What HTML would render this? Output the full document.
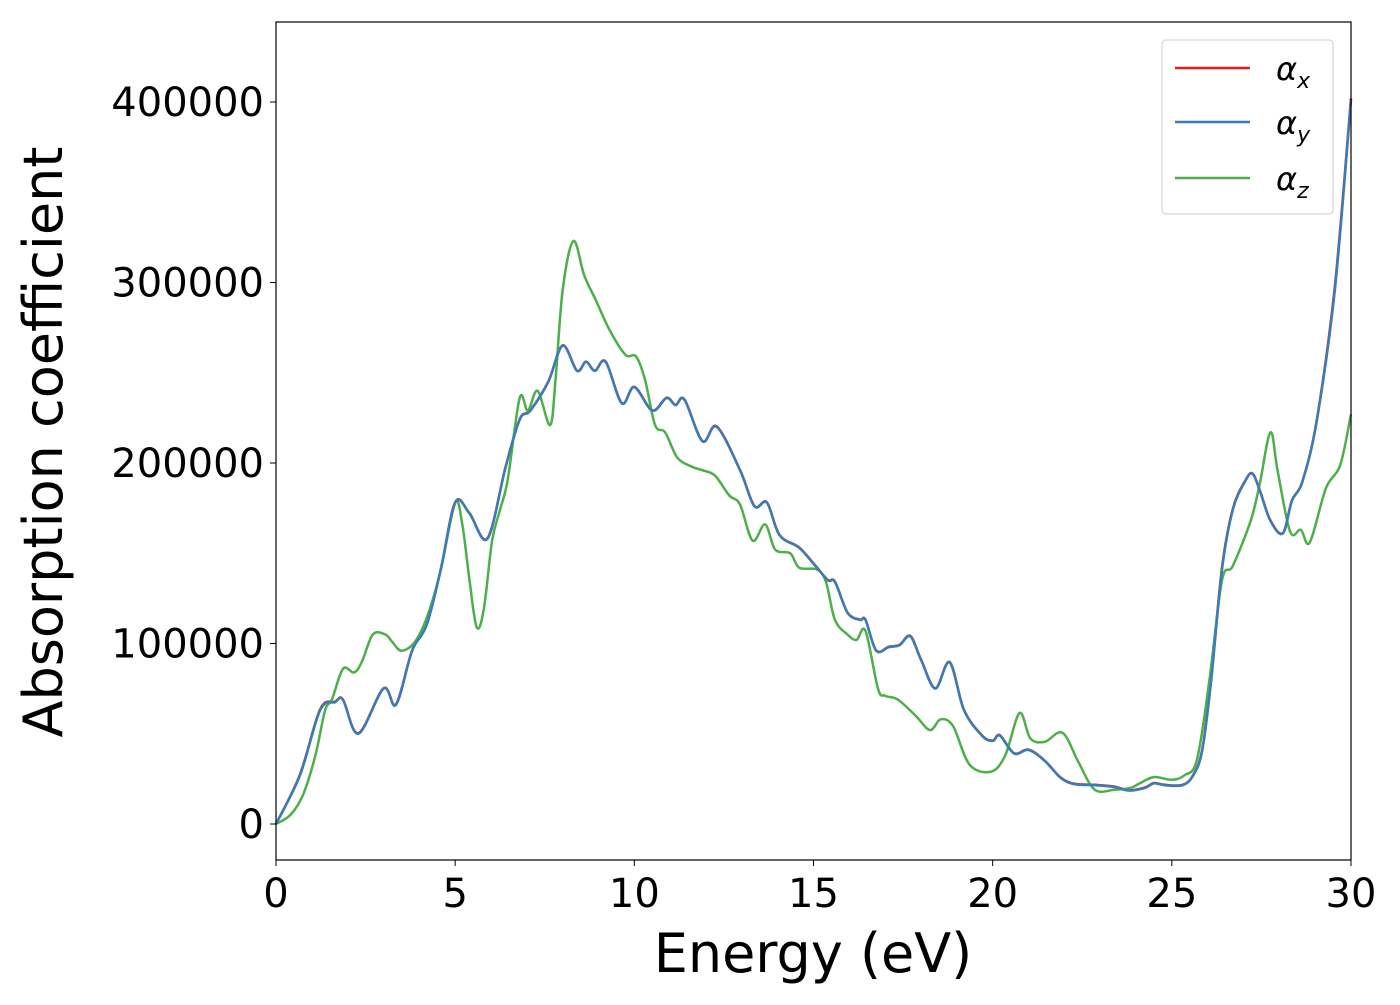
<!DOCTYPE html>
<html><head><meta charset="utf-8"><style>
body{margin:0;background:#fff;}
svg text{font-family:"DejaVu Sans","Liberation Sans",sans-serif;}
</style></head><body>
<svg id="chart" width="1400" height="1000" viewBox="0 0 1400 1000" xmlns="http://www.w3.org/2000/svg">
<rect width="1400" height="1000" fill="#fff"/>
<g id="series"></g>
<rect x="276" y="22" width="1075" height="838" fill="none" stroke="#000" stroke-width="1.2"/>
<g id="xticks"></g>
<g id="yticks"></g>
<text x="813" y="972" font-size="54" text-anchor="middle">Energy (eV)</text>
<text transform="translate(62,442) rotate(-90)" font-size="54" text-anchor="middle">Absorption coefficient</text>
<g>
<rect x="1162" y="40" width="171" height="174" rx="4" fill="#fff" stroke="#ccc" stroke-width="1"/>
<line x1="1175" y1="68" x2="1250" y2="68" stroke="#e41a1c" stroke-width="2.5"/>
<text x="1276" y="80" font-size="32" font-style="italic">α<tspan font-size="22" dy="8">x</tspan></text>
<line x1="1175" y1="122" x2="1250" y2="122" stroke="#377eb8" stroke-width="2.5"/>
<text x="1276" y="134" font-size="32" font-style="italic">α<tspan font-size="22" dy="8">y</tspan></text>
<line x1="1175" y1="178" x2="1250" y2="178" stroke="#4daf4a" stroke-width="2.5"/>
<text x="1276" y="190" font-size="32" font-style="italic">α<tspan font-size="22" dy="8">z</tspan></text>
</g>
</svg>
<script>
const xTicks=[0,5,10,15,20,25,30];
const yTicks=[0,100000,200000,300000,400000];
const eXY=[0,0.67,1.23,1.65,1.87,2.3,3.0,3.35,3.8,4.2,4.6,5.0,5.4,5.9,6.4,6.8,7.1,7.6,8.0,8.4,8.65,8.9,9.2,9.65,10.0,10.5,10.9,11.15,11.4,11.9,12.3,12.95,13.35,13.7,14.05,14.6,15.05,15.4,15.6,15.95,16.3,16.45,16.75,17.1,17.4,17.7,18.0,18.4,18.8,19.2,19.7,20.0,20.2,20.6,21.0,21.45,21.9,22.3,22.85,23.4,23.8,24.25,24.5,24.8,25.3,25.6,25.85,26.1,26.4,26.7,27.05,27.25,27.45,27.75,28.1,28.35,28.65,29.05,29.55,30.0];
const alphaY=[0,27000,63000,67500,68700,50000,75000,66000,96000,110000,141000,178000,172000,158000,197000,224000,229000,245000,265000,251000,256000,251000,256000,233000,242000,229000,236000,232000,235000,212000,220000,196000,176000,178000,160000,153000,143000,135000,134000,117000,113000,113000,96000,98000,99000,104000,91000,75000,89500,63000,49000,46000,49000,39000,41000,35000,25500,22000,21500,20500,18500,20000,22500,21500,21500,27000,41000,80000,141000,174000,190000,194000,185000,168000,161000,179000,190000,224000,296000,401000];
const alphaX=[0,27500,63500,67800,68900,50300,75200,66300,96300,110200,141300,178200,172200,158300,197300,224200,229200,245200,265200,251200,256200,251200,256200,233200,242200,229200,236200,232200,235200,212200,220200,196200,176200,178200,160200,153200,143200,135200,134200,117200,113200,113200,96200,98200,99200,104200,91200,75200,89700,63200,49200,46200,49200,39200,41200,35200,25700,22200,21700,20700,18700,20200,22700,21700,21700,27200,41500,81000,142000,174500,190300,194200,185200,168200,161200,179200,190200,224500,298000,402000];
const eZ=[0,0.4,0.75,1.1,1.37,1.56,1.87,2.18,2.4,2.7,3.05,3.24,3.5,3.88,4.24,4.6,5.0,5.2,5.4,5.6,5.8,6.03,6.25,6.47,6.8,7.03,7.3,7.65,7.8,8.0,8.3,8.6,8.93,9.3,9.75,10.05,10.3,10.58,10.86,11.2,11.6,11.9,12.25,12.65,12.95,13.3,13.65,13.93,14.35,14.6,15.1,15.35,15.6,15.95,16.2,16.45,16.8,17.0,17.35,17.85,18.25,18.55,18.9,19.35,19.95,20.35,20.75,21.05,21.45,21.95,22.4,22.85,23.4,23.85,24.1,24.5,25.0,25.35,25.7,26.05,26.4,26.7,27.2,27.45,27.75,27.95,28.3,28.6,28.85,29.3,29.7,30.0];
const alphaZ=[0,5000,16000,38000,63000,69000,86000,84000,90000,105000,105000,101000,96000,101000,116000,141000,178000,166000,135000,109000,119000,157000,174000,191000,236000,229000,240000,221000,246000,296000,323000,304000,290000,274000,260000,259000,246000,221000,217000,203000,198000,196000,193000,182000,177000,157000,166000,152000,150000,142000,141000,134000,113000,105000,102000,107000,75000,71000,69000,60000,52000,58000,54000,33000,29000,38000,61500,47500,45500,50500,34000,19000,19000,20000,22500,26000,24500,27000,35500,80000,135000,143000,168000,188000,217000,196000,162000,163000,156000,186000,199000,227000];

const X0=276,X1=1351,Y0=824,Y4=102;
const sx=e=>X0+(e-0)*(X1-X0)/30;
const sy=v=>Y0-v*(Y0-Y4)/400000;
const NS="http://www.w3.org/2000/svg";
function smoothPath(xs,ys){
  const p=xs.map((e,i)=>[sx(e),sy(ys[i])]);
  let d="M"+p[0][0].toFixed(1)+","+p[0][1].toFixed(1);
  for(let i=0;i<p.length-1;i++){
    const a=p[Math.max(0,i-1)],b=p[i],c=p[i+1],n=p[Math.min(p.length-1,i+2)];
    const c1=[b[0]+(c[0]-a[0])/6,b[1]+(c[1]-a[1])/6];
    const c2=[c[0]-(n[0]-b[0])/6,c[1]-(n[1]-b[1])/6];
    d+="C"+c1[0].toFixed(1)+","+c1[1].toFixed(1)+" "+c2[0].toFixed(1)+","+c2[1].toFixed(1)+" "+c[0].toFixed(1)+","+c[1].toFixed(1);
  }
  return d;
}
const g=document.getElementById("series");
[[eXY,alphaX,"#e41a1c","line-alpha-x"],[eZ,alphaZ,"#4daf4a","line-alpha-z"],[eXY,alphaY,"#377eb8","line-alpha-y"]].forEach(s=>{
  const el=document.createElementNS(NS,"path");
  el.setAttribute("d",smoothPath(s[0],s[1]));
  el.setAttribute("fill","none");
  el.setAttribute("stroke",s[2]);
  el.setAttribute("stroke-width","2.5");
  
  
  g.appendChild(el);
});
const gx=document.getElementById("xticks");
xTicks.forEach(t=>{
  const l=document.createElementNS(NS,"line");
  l.setAttribute("x1",sx(t));l.setAttribute("x2",sx(t));
  l.setAttribute("y1",860);l.setAttribute("y2",866);
  l.setAttribute("stroke","#000");
  
  
  gx.appendChild(l);
  const tx=document.createElementNS(NS,"text");
  tx.setAttribute("x",sx(t));tx.setAttribute("y",907);
  tx.setAttribute("font-size","40");tx.setAttribute("text-anchor","middle");
  tx.textContent=t;
  
  
  gx.appendChild(tx);
});
const gy=document.getElementById("yticks");
yTicks.forEach(t=>{
  const l=document.createElementNS(NS,"line");
  l.setAttribute("x1",270);l.setAttribute("x2",276);
  l.setAttribute("y1",sy(t));l.setAttribute("y2",sy(t));
  l.setAttribute("stroke","#000");
  
  
  gy.appendChild(l);
  const tx=document.createElementNS(NS,"text");
  tx.setAttribute("x",264);tx.setAttribute("y",sy(t)+14);
  tx.setAttribute("font-size","40");tx.setAttribute("text-anchor","end");
  tx.textContent=t;
  
  
  gy.appendChild(tx);
});
</script>
</body></html>
